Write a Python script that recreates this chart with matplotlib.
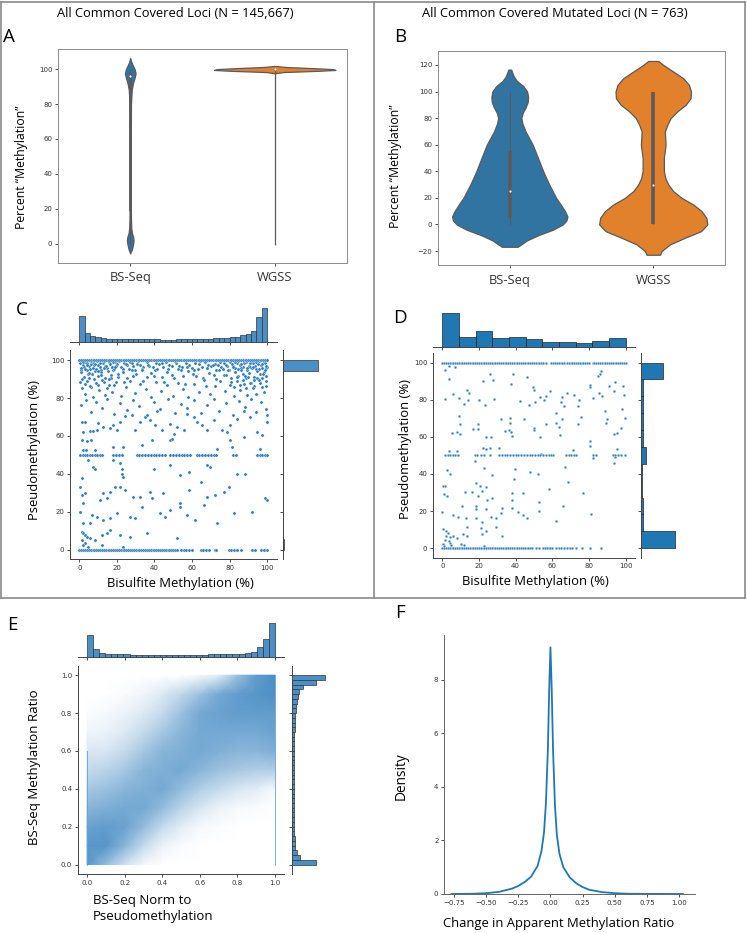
import numpy as np
import matplotlib
matplotlib.use('Agg')
import matplotlib.pyplot as plt
from matplotlib.colors import LinearSegmentedColormap
from matplotlib.lines import Line2D

SANS = ['Open Sans', 'DejaVu Sans']
BLUE = '#3274a1'
ORANGE = '#e1812c'
PT = '#2f7fc1'
HIST = '#4a8fc5'
W, H = 747, 933

# ---------------- A: violins, all loci (y, half width) ----------------
a_bs_y = [-5.5, -3, 0, 2, 4, 6, 9, 14, 20, 40, 60, 80, 88, 92, 95, 97.5, 100, 102, 104, 106.3]
a_bs_w = [0, 0.012, 0.02, 0.023, 0.02, 0.012, 0.007, 0.005, 0.004, 0.004, 0.004, 0.005, 0.01, 0.019, 0.03, 0.037, 0.03, 0.018, 0.008, 0]
a_wg_y = [97.6, 98.3, 99.0, 99.5, 100.0, 100.6, 101.2, 101.8]
a_wg_w = [0, 0.06, 0.3, 0.42, 0.4, 0.25, 0.08, 0]
# whisker low, q1, median, q3, whisker high
a_box = [[0, 19, 96, 98.5, 100], [-0.5, 99.5, 100, 100, 99.5]]

# ---------------- B: violins, mutated loci ----------------
b_bs_y = [-16.8, -15, -12, -8, -4, 0, 3, 6, 10, 15, 20, 30, 40, 50, 60, 70, 76, 80, 84, 88, 92, 96, 100, 104, 108, 111, 114, 116.5]
b_bs_w = [0.055, 0.08, 0.12, 0.2, 0.3, 0.37, 0.395, 0.402, 0.385, 0.355, 0.323, 0.275, 0.233, 0.197, 0.16, 0.11, 0.088, 0.081, 0.09, 0.11, 0.125, 0.128, 0.121, 0.095, 0.05, 0.03, 0.018, 0.01]
b_wg_y = [-22.8, -20, -15, -10, -5, 0, 5, 10, 15, 20, 25, 30, 35, 40, 50, 60, 70, 75, 80, 85, 90, 95, 100, 105, 110, 115, 120, 123]
b_wg_w = [0.047, 0.058, 0.116, 0.221, 0.333, 0.377, 0.37, 0.337, 0.279, 0.198, 0.14, 0.105, 0.084, 0.074, 0.074, 0.086, 0.081, 0.098, 0.121, 0.167, 0.226, 0.26, 0.263, 0.249, 0.209, 0.14, 0.07, 0.035]
b_box = [[-0.5, 5, 25, 55, 100], [0, 0, 30, 100, 100]]
cats = ['BS-Seq', 'WGSS']

# ---------------- C: joint plot, all loci ----------------
c_top = [77, 27, 19, 15, 12, 11, 10, 9, 9, 9, 9, 9, 9, 9, 9, 8, 8, 8, 9, 9,
         9, 9, 10, 10, 11, 12, 12, 14, 15, 17, 21, 25, 34, 74, 102]
c_right = [1.5, 0.3, 0.3, 0.4, 0.3, 0.4, 0.3, 0.3, 0.8, 0.4, 0.4, 0.4, 0.5, 0.5, 0.6, 0.8, 1.2, 103]
c_pts = [
    (0.3, 98.6), (1.8, 97.2), (3.2, 99.1), (4.9, 96.8), (6.1, 98.0), (7.7, 97.5), (9.4, 99.3), (10.8, 96.4), (12.5, 98.2), (13.9, 97.0),
    (15.6, 98.8), (17.2, 96.6), (18.8, 99.0), (20.3, 97.8), (22.1, 96.2), (23.6, 98.5), (25.4, 97.3), (27.0, 99.2), (28.7, 96.9), (30.5, 98.1),
    (32.2, 97.6), (34.0, 96.3), (35.8, 98.9), (37.3, 97.1), (39.1, 96.5), (41.0, 98.4), (42.6, 97.9), (44.5, 96.1), (46.1, 99.0), (48.0, 97.4),
    (49.6, 96.7), (51.4, 98.3), (53.2, 97.0), (54.9, 96.4), (56.7, 98.7), (58.3, 97.2), (60.0, 96.0), (61.8, 98.5), (63.5, 97.7), (65.2, 96.6),
    (67.0, 99.1), (68.7, 97.3), (70.3, 96.8), (72.1, 98.0), (73.8, 97.5), (75.5, 96.2), (77.2, 98.6), (78.8, 97.1), (80.5, 99.2), (82.1, 96.9),
    (83.8, 98.3), (85.4, 97.6), (87.0, 96.5), (88.7, 98.8), (90.3, 97.0), (91.9, 99.3), (93.6, 96.7), (95.2, 98.1), (96.8, 97.4), (98.4, 98.9), (99.8, 96.3),
    (1.0, 94.6), (2.6, 96.3), (4.0, 98.4), (5.6, 95.2), (7.1, 99.0), (8.2, 94.3), (9.9, 97.3), (11.5, 95.0), (13.0, 99.4), (14.8, 95.9),
    (16.4, 98.0), (18.0, 94.7), (19.6, 97.1), (21.3, 99.3), (23.0, 95.4), (24.6, 97.7), (26.3, 95.1), (28.0, 98.2), (29.6, 94.6), (31.5, 99.4),
    (33.3, 95.3), (36.6, 97.2), (40.3, 95.0), (43.8, 98.6), (47.3, 95.4), (50.8, 99.3), (54.2, 94.8), (57.6, 96.2), (61.1, 95.0), (64.5, 99.4),
    (68.0, 95.7), (71.3, 97.4), (73.0, 94.5), (74.8, 99.1), (76.4, 95.3), (78.0, 97.2), (79.6, 94.9), (81.2, 98.0), (82.9, 95.6), (84.5, 99.4),
    (86.1, 96.0), (87.7, 98.2), (89.3, 94.6), (90.9, 96.5), (92.5, 98.7), (94.1, 95.1), (95.7, 99.5), (97.2, 96.0), (98.8, 98.3), (99.6, 95.6),
    (0.8, 93.5), (2.2, 91.2), (3.9, 94.8), (5.3, 90.6), (6.8, 92.9), (8.6, 95.1), (10.1, 91.8), (11.7, 93.9), (13.4, 90.4), (15.0, 94.2),
    (16.9, 92.0), (18.6, 95.4), (20.8, 91.3), (23.0, 93.6), (25.5, 90.8), (27.8, 94.5), (30.2, 92.4), (33.1, 95.0), (35.9, 91.0), (38.4, 93.3),
    (41.2, 95.5), (44.0, 90.9), (46.7, 93.8), (49.5, 92.1), (52.3, 95.2), (55.0, 91.5), (57.8, 94.0), (60.6, 92.6), (63.4, 95.3), (66.1, 90.7),
    (68.9, 93.4), (71.5, 91.9), (74.2, 94.6), (76.8, 92.2), (79.1, 95.0), (81.0, 90.8), (82.7, 93.7), (84.3, 91.6), (85.9, 94.9), (87.4, 92.5),
    (88.9, 90.3), (90.4, 93.2), (91.8, 95.6), (93.2, 91.1), (94.6, 94.1), (96.0, 92.7), (97.3, 90.5), (98.6, 93.9), (99.6, 91.7),
    (1.3, 90.2), (3.0, 87.6), (4.6, 92.5), (6.3, 85.8), (8.0, 89.9), (9.7, 86.8), (11.3, 92.2), (13.1, 88.4), (14.9, 85.5), (16.7, 90.8),
    (18.5, 87.1), (20.5, 92.6), (24.0, 88.5), (28.5, 91.4), (33.9, 89.0), (39.7, 91.8), (45.2, 88.2), (50.6, 90.4), (56.4, 87.4), (62.1, 91.6),
    (67.3, 86.3), (72.9, 89.8), (77.9, 91.9), (80.6, 88.3), (82.3, 85.9), (84.0, 91.0), (85.7, 87.0), (87.1, 89.6), (88.6, 85.2), (90.1, 91.3),
    (91.6, 87.8), (93.1, 86.1), (94.6, 90.6), (96.2, 88.0), (97.8, 92.4), (99.2, 86.4),
    (0.5, 88.5), (1.6, 85.2), (2.8, 82.0), (4.1, 89.0), (5.5, 86.3), (7.2, 80.7), (8.8, 87.9), (10.4, 84.1), (12.1, 89.4), (13.9, 81.6),
    (15.8, 86.8), (17.6, 83.4), (19.7, 88.2), (22.3, 80.9), (24.8, 85.7), (27.1, 89.1), (29.9, 82.7), (32.5, 87.3), (35.4, 84.6), (38.2, 80.3),
    (41.0, 88.6), (43.6, 83.8), (46.5, 86.9), (49.8, 81.2), (52.6, 88.0), (55.2, 84.9), (58.1, 80.6), (61.0, 87.5), (63.7, 83.1), (66.5, 89.3),
    (69.4, 81.9), (72.3, 86.1), (75.0, 88.8), (77.6, 83.6), (80.2, 86.7), (82.5, 80.8), (84.1, 89.2), (85.8, 84.4), (87.5, 87.6), (89.2, 81.4),
    (90.9, 88.1), (92.5, 85.3), (94.0, 82.2), (95.6, 89.5), (97.1, 86.0), (98.5, 83.0), (99.7, 88.7),
    (1.0, 76.2), (3.4, 79.1), (6.2, 72.8), (9.0, 78.0), (11.8, 74.5), (14.5, 79.6), (18.3, 71.4), (21.5, 77.3), (25.2, 73.9), (28.6, 79.2),
    (31.9, 75.6), (36.1, 71.0), (39.8, 77.8), (43.2, 74.2), (47.0, 79.4), (50.9, 72.3), (54.1, 77.0), (57.5, 74.8), (61.3, 79.0), (64.8, 71.9),
    (68.2, 76.5), (71.7, 79.7), (74.6, 73.2), (78.3, 77.6), (81.6, 71.2), (84.9, 78.4), (88.1, 75.1), (91.4, 79.3), (94.3, 72.6), (96.9, 77.9), (99.4, 74.0),
    (1.1, 96.0), (2.0, 99.0), (3.0, 95.5), (4.2, 97.6), (5.0, 93.0), (6.4, 99.4), (7.0, 95.8), (8.1, 97.9), (9.8, 94.4), (11.2, 98.5),
    (12.9, 95.6), (14.4, 97.1), (16.0, 89.8), (17.8, 99.1), (19.0, 96.3), (81.6, 96.5), (83.0, 98.9), (84.6, 95.3), (86.2, 97.8), (87.8, 99.4),
    (89.5, 95.9), (91.1, 98.2), (92.7, 96.1), (94.2, 99.0), (95.9, 95.4), (97.5, 97.7), (98.9, 94.8), (99.5, 97.0), (88.0, 91.5), (93.0, 89.6),
    (1.2, 67.3), (3.0, 67.3), (1.8, 62.0), (5.7, 62.4), (7.1, 62.4), (9.3, 62.9), (1.2, 58.0), (3.9, 57.3), (6.0, 58.0), (2.1, 52.4),
    (3.6, 52.8), (8.4, 52.8), (10.1, 67.0), (12.8, 64.7), (16.4, 64.3), (18.1, 65.6), (19.9, 63.3), (24.4, 70.5), (27.9, 70.8), (21.7, 67.3),
    (29.7, 62.9), (32.4, 67.3), (35.0, 70.0), (37.7, 68.2), (41.3, 73.4), (40.4, 65.6), (43.9, 62.9), (48.4, 66.4), (52.0, 64.7), (55.5, 62.9),
    (50.2, 61.2), (57.3, 71.7), (60.9, 69.9), (62.6, 67.3), (65.3, 65.6), (68.0, 62.9), (71.5, 68.2), (76.0, 62.9), (78.6, 62.0), (80.4, 65.6),
    (84.0, 69.0), (87.5, 73.4), (91.1, 69.9), (94.7, 62.0), (97.3, 60.3), (100.0, 67.3), (100.0, 70.8), (48.4, 57.7), (49.3, 58.6), (33.3, 55.1),
    (38.6, 58.0), (23.5, 54.2), (18.1, 54.2), (73.3, 53.3), (80.4, 57.7), (81.3, 54.2), (96.4, 53.3), (87.5, 59.4),
    (4.8, 47.2), (7.5, 43.4), (8.4, 42.8), (18.1, 47.2), (21.7, 45.5), (22.6, 42.8), (22.6, 39.9), (23.5, 38.5), (39.5, 42.8), (48.4, 44.6),
    (53.7, 39.3), (58.2, 41.1), (68.0, 44.6), (69.8, 43.7), (84.0, 40.2), (88.5, 40.2), (1.2, 37.6), (0.4, 33.2), (1.2, 28.8), (3.0, 29.7),
    (2.1, 24.5), (0.4, 20.1), (12.8, 29.7), (16.4, 30.6), (19.0, 33.2), (21.7, 33.2), (24.4, 31.5), (11.0, 26.2), (14.6, 27.1), (28.8, 28.0),
    (32.4, 28.0), (37.7, 30.6), (38.6, 27.1), (44.8, 29.7), (53.7, 24.5), (58.2, 31.5), (64.6, 35.8), (68.0, 28.0), (72.4, 28.8), (76.9, 30.6),
    (79.5, 33.2), (99.1, 27.1), (100.0, 26.2), (6.6, 18.4), (9.3, 17.5), (12.8, 15.7), (16.4, 16.6), (19.9, 19.2), (27.0, 17.5), (29.7, 16.6),
    (33.3, 22.7), (43.1, 19.2), (45.6, 17.5), (48.4, 21.0), (53.7, 22.7), (57.3, 18.4), (61.7, 15.7), (66.2, 23.6), (73.3, 14.0), (82.2, 19.2),
    (92.0, 20.1), (1.2, 9.6), (2.1, 8.7), (3.0, 7.9), (3.9, 7.0), (5.7, 6.1), (8.4, 5.2), (11.9, 7.9), (14.6, 8.7), (21.7, 7.9),
    (27.0, 7.0), (35.9, 9.1), (52.0, 6.1), (2.1, 2.6), (3.0, 3.5), (4.8, 1.7), (11.9, 2.6), (23.5, 1.7), (1.2, 5.2), (16.4, 10.5),
    (5.7, 14.0), (2.1, 14.0),
]
c_row100 = [0, 1, 2, 3, 4, 5, 6, 7, 8, 9, 10, 11, 12, 13, 14, 15, 16, 17, 18, 19, 20, 21, 22, 23, 24, 25,
            26, 27, 28, 29, 30, 31, 32, 33, 34, 35, 36, 37, 38, 39, 40, 41, 42, 43, 44, 45, 46, 47, 48, 49, 50,
            51, 52, 53, 54, 55, 56, 57, 58, 59, 60, 61, 62, 63, 64, 65, 66, 67, 68, 69, 70, 71, 72, 73, 74, 75,
            76, 77, 78, 79, 80, 81, 82, 83, 84, 85, 86, 87, 88, 89, 90, 91, 92, 93, 94, 95, 96, 97, 98, 99, 100]
c_row50 = [0.4, 1.7, 3, 4.3, 5.6, 6.9, 8.2, 9.5, 10.8, 12.1, 18, 19.5, 21, 22.5, 30.6, 32, 33.5, 35, 36.5, 38,
           39.5, 41, 42.5, 44, 45.5, 48.4, 50, 51.5, 53, 54.5, 56, 57.5, 59, 62.6, 64, 65.5, 67, 68.5, 70, 71.5,
           73, 82, 83.5, 94.7, 96, 97.5, 99, 100]
c_row0 = [0, 1, 2, 3, 4, 5, 6, 7, 8, 9, 10, 11, 12, 13, 14, 15, 16, 17, 18, 19, 20, 21, 22, 23, 24, 25, 26,
          27, 28, 29, 30, 31, 32, 33, 34, 35, 36, 37, 38, 39, 40, 41, 42, 43, 44, 45, 46, 47, 48, 49, 50, 51, 52,
          54, 55.5, 57, 58.5, 60, 64.6, 66, 67.5, 69, 72, 73, 79.5, 81, 82.5, 84, 86, 92, 93.5, 97, 98.5, 100]

# ---------------- D: joint plot, mutated loci ----------------
d_top = [100, 30, 46, 25, 28, 22, 13, 14, 10, 17, 27]
d_right = [100, 5, 5, 3, 3, 15, 6, 5, 6, 6, 65]
d_pts = [
    (1.3, 96.1), (3.6, 98.2), (6.7, 97.7), (1.6, 80.2), (3.6, 91.0), (5.8, 82.9), (9.1, 81.1), (11.6, 77.5), (13.6, 85.1), (14.5, 83.5),
    (14.0, 79.7), (20.0, 79.7), (23.1, 77.2), (22.2, 90.1), (26.2, 93.6), (27.6, 90.7), (28.2, 80.2), (38.5, 94.0), (37.6, 88.4), (42.2, 79.4),
    (46.2, 92.2), (49.5, 86.7), (49.8, 85.3), (47.3, 77.0), (50.4, 78.5), (53.1, 81.2), (55.3, 80.0), (56.7, 82.2), (58.9, 84.8), (64.9, 78.5),
    (65.5, 81.2), (66.2, 76.4), (68.0, 83.6), (71.6, 82.5), (74.5, 80.0), (74.2, 76.8), (80.7, 86.6), (80.4, 87.8), (84.9, 92.9), (85.8, 93.8),
    (86.4, 95.6), (82.5, 80.9), (85.3, 83.6), (87.3, 82.1), (90.7, 87.5), (94.0, 89.3), (93.6, 84.8), (98.5, 87.2), (98.9, 82.7), (98.2, 74.9),
    (88.9, 74.0), (89.8, 69.5), (89.5, 67.2), (99.5, 70.4), (97.6, 65.0), (93.8, 61.4), (95.5, 62.3), (8.9, 71.0), (9.8, 66.8), (5.1, 62.0),
    (8.0, 62.7), (9.5, 61.4), (16.7, 64.3), (19.6, 66.8), (19.5, 64.1), (23.6, 60.0), (26.7, 60.0), (32.0, 69.5), (34.2, 63.0), (36.7, 70.4),
    (37.1, 67.7), (36.4, 63.5), (37.5, 62.6), (38.2, 60.5), (44.4, 69.5), (49.8, 64.5), (49.8, 63.6), (53.5, 60.0), (56.7, 66.8), (61.8, 67.7),
    (61.8, 72.6), (63.6, 65.5), (64.0, 60.8), (65.1, 69.8), (73.8, 66.8), (75.8, 70.5), (80.4, 57.8), (80.5, 55.0), (22.2, 54.1), (23.6, 53.3),
    (25.8, 54.1), (30.9, 53.8), (3.5, 52.2), (8.0, 52.4), (17.8, 47.0), (54.0, 50.6), (71.3, 52.7), (95.3, 53.3), (94.0, 49.3), (93.5, 46.0),
    (82.5, 48.8), (2.5, 41.9), (4.4, 40.1), (22.7, 43.3), (26.9, 39.7), (39.5, 42.8), (38.9, 37.4), (48.0, 40.8), (52.4, 39.9), (67.1, 43.9),
    (68.4, 35.8), (18.5, 35.2), (16.4, 30.4), (20.4, 33.4), (24.0, 33.1), (21.5, 30.9), (12.2, 30.2), (0.4, 33.5), (1.3, 33.5), (0.7, 29.0),
    (2.5, 28.1), (0.0, 19.6), (10.5, 23.0), (19.5, 28.1), (24.5, 25.9), (27.3, 27.2), (38.2, 29.9), (38.2, 26.1), (44.0, 29.9), (52.7, 25.0),
    (58.2, 31.7), (76.7, 29.9), (18.5, 22.7), (18.5, 20.9), (24.0, 21.2), (32.4, 21.8), (38.2, 21.6), (41.5, 19.4), (44.0, 17.8), (46.2, 16.4),
    (52.7, 20.0), (65.8, 23.0), (61.8, 14.9), (81.1, 18.7), (5.8, 17.8), (8.5, 16.9), (13.1, 16.4), (18.2, 16.4), (21.5, 14.2), (26.7, 16.9),
    (29.1, 16.4), (32.2, 19.1), (13.3, 11.5), (11.3, 7.4), (13.6, 6.5), (21.3, 11.0), (21.8, 7.4), (24.0, 9.2), (29.5, 11.3), (32.7, 6.8),
    (0.4, 10.1), (1.8, 9.5), (2.9, 8.3), (2.2, 6.8), (4.0, 6.1), (5.8, 6.5), (8.2, 5.6), (3.6, 3.8), (4.0, 2.9), (4.9, 2.0),
    (0.4, 2.5), (1.1, 1.1), (10.4, 2.2), (12.0, 2.0), (22.9, 1.4), (1.5, 4.7),
]
d_row100 = [0, 1, 2, 3, 4, 5, 6, 7, 8, 9, 10, 11, 12, 13, 14, 15, 16, 17, 18, 19, 20, 21, 22, 23, 24, 25,
            26, 27, 28, 29, 30, 31, 32, 33, 34, 35, 36, 37, 38, 39, 40, 41, 42, 43, 44, 45, 46, 47, 48, 49, 50,
            51, 52, 53, 54, 55, 56.7, 59.5, 60.5, 61.5, 62.5, 63.5, 64.5, 65.5, 66.5, 68, 69, 70, 71, 72, 73, 74,
            75, 76, 77, 78, 79, 80, 82, 83, 84, 85, 86, 87, 88, 89, 90, 91, 92, 93, 94, 95, 96, 97, 98, 99, 100]
d_row50 = [1.7, 3, 4.3, 5.6, 7, 8.3, 17.6, 19, 21, 23, 25.8, 31, 32.5, 34, 35.5, 37, 38.5, 40, 41.5, 43, 44.5,
           46, 47.6, 49, 50.5, 52, 53.5, 55, 56.5, 58, 59.5, 60.4, 67.6, 69, 70.5, 72, 73, 82, 84, 93, 94.5, 96,
           97.5, 99.5]
d_row0 = [0, 1, 2, 3, 4, 5, 6, 7, 8, 9, 10, 11, 12, 13, 14, 15, 16, 17, 18, 19, 20, 21, 22, 23, 24, 25, 26,
          27, 28, 29, 30, 31, 32, 33, 34, 35, 36, 37, 38, 39, 40, 41, 42, 43, 44, 45, 46, 47, 48, 49, 51, 53,
          55, 56, 57, 58, 59, 60, 62, 63.5, 65, 66.5, 68, 69.5, 71, 73, 76, 80.4, 86.7]

# ---------------- E: joint plot, ratios (density of the point cloud) ----------------
e_top = [66, 23, 12, 9, 7, 7, 7, 6, 6, 6, 6, 6, 6, 6, 6, 6, 6, 6, 6, 6,
         7, 7, 7, 7, 8, 9, 10, 15, 30, 54, 102]
e_right = [73, 25, 15, 11, 10, 9, 8, 8, 8, 8, 7, 7, 7, 7, 7, 7, 7, 7, 7, 7,
           7, 7, 7, 7, 8, 8, 8, 8, 9, 9, 10, 11, 12, 13, 16, 20, 23, 33, 72, 100]
e_grid = [0, 0.1, 0.2, 0.3, 0.4, 0.5, 0.6, 0.7, 0.8, 0.9, 1.0]
e_density = [  # rows: y = 0.0 ... 1.0, columns: x = 0.0 ... 1.0
    [0.85, 0.55, 0.25, 0.06, 0.0, 0.0, 0.0, 0.0, 0.0, 0.0, 0.0],
    [0.85, 0.85, 0.6, 0.3, 0.1, 0.03, 0.0, 0.0, 0.0, 0.0, 0.0],
    [0.75, 0.8, 0.75, 0.55, 0.3, 0.15, 0.05, 0.02, 0.0, 0.0, 0.0],
    [0.6, 0.65, 0.7, 0.7, 0.55, 0.35, 0.2, 0.1, 0.05, 0.03, 0.0],
    [0.45, 0.5, 0.6, 0.65, 0.7, 0.55, 0.4, 0.3, 0.2, 0.15, 0.05],
    [0.3, 0.35, 0.45, 0.6, 0.65, 0.7, 0.6, 0.5, 0.45, 0.4, 0.4],
    [0.2, 0.2, 0.3, 0.45, 0.6, 0.65, 0.7, 0.65, 0.6, 0.6, 0.65],
    [0.08, 0.1, 0.18, 0.3, 0.45, 0.6, 0.7, 0.7, 0.7, 0.7, 0.75],
    [0.02, 0.05, 0.1, 0.18, 0.3, 0.5, 0.7, 0.75, 0.8, 0.8, 0.8],
    [0.0, 0.0, 0.03, 0.08, 0.18, 0.32, 0.5, 0.7, 0.8, 0.85, 0.9],
    [0.0, 0.0, 0.0, 0.0, 0.0, 0.0, 0.05, 0.15, 0.5, 0.8, 0.9],
]

# ---------------- F: density of change ----------------
f_x = [-0.77, -0.6, -0.5, -0.4, -0.3, -0.25, -0.2, -0.15, -0.1, -0.07, -0.05, -0.035, -0.02, -0.01, 0.0,
       0.01, 0.02, 0.035, 0.05, 0.07, 0.1, 0.15, 0.2, 0.25, 0.3, 0.4, 0.5, 0.6, 0.75, 0.9, 1.03]
f_y = [0.0, 0.01, 0.03, 0.08, 0.2, 0.3, 0.45, 0.65, 1.05, 1.6, 2.3, 3.4, 5.4, 7.6, 9.2,
       7.6, 5.4, 3.3, 2.2, 1.5, 1.0, 0.62, 0.4, 0.26, 0.16, 0.07, 0.03, 0.01, 0.005, 0.002, 0.0]


def box(l, t, r, b):
    return [l / W, 1 - b / H, (r - l) / W, (b - t) / H]


def put(x, y, s, **kw):
    kw.setdefault('family', SANS)
    fig.text(x / W, 1 - y / H, s, **kw)


def style(ax, col='#444444'):
    ax.tick_params(labelsize=5, length=2.5, width=0.6, pad=1.5, colors='#333333')
    for s in ax.spines.values():
        s.set_color(col)
        s.set_linewidth(0.7)


def violin(ax, pos, ys, ws, color, stats, boxlw):
    ys = np.array(ys)
    ws = np.array(ws)
    ax.fill_betweenx(ys, pos - ws, pos + ws, facecolor=color, edgecolor='#5a5a5a', lw=0.9, zorder=2)
    lo, q1, med, q3, hi = stats
    ax.plot([pos, pos], [lo, hi], color='#5a5a5a', lw=0.9, zorder=3, solid_capstyle='butt')
    ax.plot([pos, pos], [q1, q3], color='#5a5a5a', lw=boxlw, zorder=3, solid_capstyle='butt')
    ax.scatter([pos], [med], s=2.5, color='white', zorder=4, linewidths=0)


def scatter_pts(ax, pts, rows, s):
    xs, ys = np.array(pts).T
    ax.scatter(xs, ys, s=s, color=PT, edgecolors='white', linewidths=0.25)
    for yv, xr in rows:
        ax.scatter(xr, [yv] * len(xr), s=s, color=PT, edgecolors='white', linewidths=0.25)


def joint_axes(main_box, top_box, right_box, lim, ticks):
    m = fig.add_axes(box(*main_box))
    t = fig.add_axes(box(*top_box))
    r = fig.add_axes(box(*right_box))
    for ax in (m, t, r):
        style(ax)
    m.set_xlim(lim)
    m.set_ylim(lim)
    m.set_xticks(ticks)
    m.set_yticks(ticks)
    m.spines[['top', 'right']].set_visible(False)
    t.set_xlim(lim)
    t.set_xticks(ticks)
    t.set_xticklabels([])
    t.set_yticks([])
    t.spines[['top', 'right', 'left']].set_visible(False)
    r.set_ylim(lim)
    r.set_yticks(ticks)
    r.set_yticklabels([])
    r.set_xticks([])
    r.spines[['top', 'right', 'bottom']].set_visible(False)
    return m, t, r


def marg(t, r, top, right, lo, hi, color, ec):
    e1 = np.linspace(lo, hi, len(top) + 1)
    t.bar(e1[:-1], top, width=e1[1] - e1[0], align='edge', color=color, edgecolor=ec, lw=0.5)
    e2 = np.linspace(lo, hi, len(right) + 1)
    r.barh(e2[:-1], right, height=e2[1] - e2[0], align='edge', color=color, edgecolor=ec, lw=0.5)


fig = plt.figure(figsize=(W / 100, H / 100), dpi=100)

# ---- panel A ----
axA = fig.add_axes(box(58, 49, 347, 263))
violin(axA, 0, a_bs_y, a_bs_w, BLUE, a_box[0], 2.0)
violin(axA, 1, a_wg_y, a_wg_w, ORANGE, a_box[1], 2.0)
axA.set_xlim(-0.5, 1.5)
axA.set_ylim(-11, 111.5)
axA.set_yticks([0, 20, 40, 60, 80, 100])
axA.set_xticks([0, 1])
axA.set_xticklabels(cats, fontsize=9.3, family=SANS)
style(axA, '#8c8c8c')
axA.tick_params(axis='x', labelsize=9.3, pad=3.5)

# ---- panel B ----
axB = fig.add_axes(box(438, 51, 725, 265))
violin(axB, 0, b_bs_y, b_bs_w, BLUE, b_box[0], 2.6)
violin(axB, 1, b_wg_y, b_wg_w, ORANGE, b_box[1], 2.6)
axB.set_xlim(-0.5, 1.5)
axB.set_ylim(-30.5, 130.5)
axB.set_yticks([-20, 0, 20, 40, 60, 80, 100, 120])
axB.set_xticks([0, 1])
axB.set_xticklabels(cats, fontsize=9.3, family=SANS)
style(axB, '#8c8c8c')
axB.tick_params(axis='x', labelsize=9.3, pad=4)

# ---- panel C ----
pct_ticks = [0, 20, 40, 60, 80, 100]
mC, tC, rC = joint_axes((70, 350, 277, 559.3), (70, 306, 277, 342.3), (283, 350, 319.7, 559.3),
                        (-5, 105.3), pct_ticks)
scatter_pts(mC, c_pts, [(100, c_row100), (50, c_row50), (0, c_row0)], 5.5)
marg(tC, rC, c_top, c_right, 0, 100, HIST, '#333333')

# ---- panel D ----
mD, tD, rD = joint_axes((433, 353.3, 634.7, 557.7), (433, 311.7, 634.7, 346.7), (641.3, 353.3, 676.3, 557.7),
                        (-5.1, 105), pct_ticks)
scatter_pts(mD, d_pts, [(100, d_row100), (50, d_row50), (0, d_row0)], 4)
marg(tD, rD, d_top, d_right, 0, 100, '#1f77b4', '#222222')

# ---- panel E ----
ratio_ticks = [0.0, 0.2, 0.4, 0.6, 0.8, 1.0]
mE, tE, rE = joint_axes((77.7, 665.7, 284.3, 874), (77.7, 621.6, 284.3, 656.7), (291.7, 665.7, 326.7, 874),
                        (-0.05, 1.05), ratio_ticks)
cmap = LinearSegmentedColormap.from_list('cloud', ['#ffffff', '#3a84c0'])
mE.pcolormesh(e_grid, e_grid, np.array(e_density), shading='gouraud', cmap=cmap, vmin=0, vmax=1, rasterized=True)
mE.plot([1.0, 1.0], [0.0, 1.0], color='#6aa3d1', lw=0.6)
mE.plot([0.0, 0.0], [0.0, 0.6], color='#6aa3d1', lw=0.6)
mE.set_xlim(-0.05, 1.05)
mE.set_ylim(-0.05, 1.05)
marg(tE, rE, e_top, e_right, 0, 1, HIST, '#333333')

# ---- panel F ----
axF = fig.add_axes(box(444, 635, 694.7, 894))
axF.plot(f_x, f_y, color='#1f77b4', lw=1.3)
axF.set_xlim(-0.828, 1.122)
axF.set_ylim(0, 9.66)
axF.set_xticks([-0.75, -0.5, -0.25, 0, 0.25, 0.5, 0.75, 1.0])
axF.set_yticks([0, 2, 4, 6, 8])
style(axF, '#666666')
axF.spines[['top', 'right']].set_visible(False)

# ---- text ----
put(175, 17, 'All Common Covered Loci (N = 145,667)', ha='center', va='baseline', fontsize=9.3)
put(555, 17, 'All Common Covered Mutated Loci (N = 763)', ha='center', va='baseline', fontsize=9.3)
for letter, x, y in [('A', 9, 42), ('B', 400, 42), ('C', 22, 315), ('D', 400, 323), ('E', 12, 630), ('F', 400, 618)]:
    put(x, y, letter, ha='center', va='baseline', fontsize=13.5)
put(22, 167, 'Percent \u201cMethylation\u201d', rotation=90, ha='center', va='center', fontsize=8.8)
put(395, 166, 'Percent \u201cMethylation\u201d', rotation=90, ha='center', va='center', fontsize=8.8)
put(35, 450, 'Pseudomethylation (%)', rotation=90, ha='center', va='center', fontsize=9.4)
put(405, 449, 'Pseudomethylation (%)', rotation=90, ha='center', va='center', fontsize=9.4)
put(180, 584, 'Bisulfite Methylation (%)', ha='center', va='center', fontsize=9.4)
put(535, 581, 'Bisulfite Methylation (%)', ha='center', va='center', fontsize=9.4)
put(35, 767, 'BS-Seq Methylation Ratio', rotation=90, ha='center', va='center', fontsize=9.5)
put(92.7, 908.5, 'BS-Seq Norm to\nPseudomethylation', ha='left', va='center', fontsize=9.5, linespacing=1.25)
put(401, 776, 'Density', rotation=90, ha='center', va='center', fontsize=9.8)
put(558.7, 924, 'Change in Apparent Methylation Ratio', ha='center', va='center', fontsize=9.4)

# ---- panel frames ----
frame = [((1.5, 1.5), (745, 1.5)), ((1.5, 1.5), (1.5, 598)), ((745, 1.5), (745, 598)),
         ((1.5, 598), (745, 598)), ((373.5, 1.5), (373.5, 598))]
for (x1, y1), (x2, y2) in frame:
    fig.add_artist(Line2D([x1 / W, x2 / W], [1 - y1 / H, 1 - y2 / H], color='#8a8a8a', lw=1.2))

fig.savefig('out.png', dpi=100)
